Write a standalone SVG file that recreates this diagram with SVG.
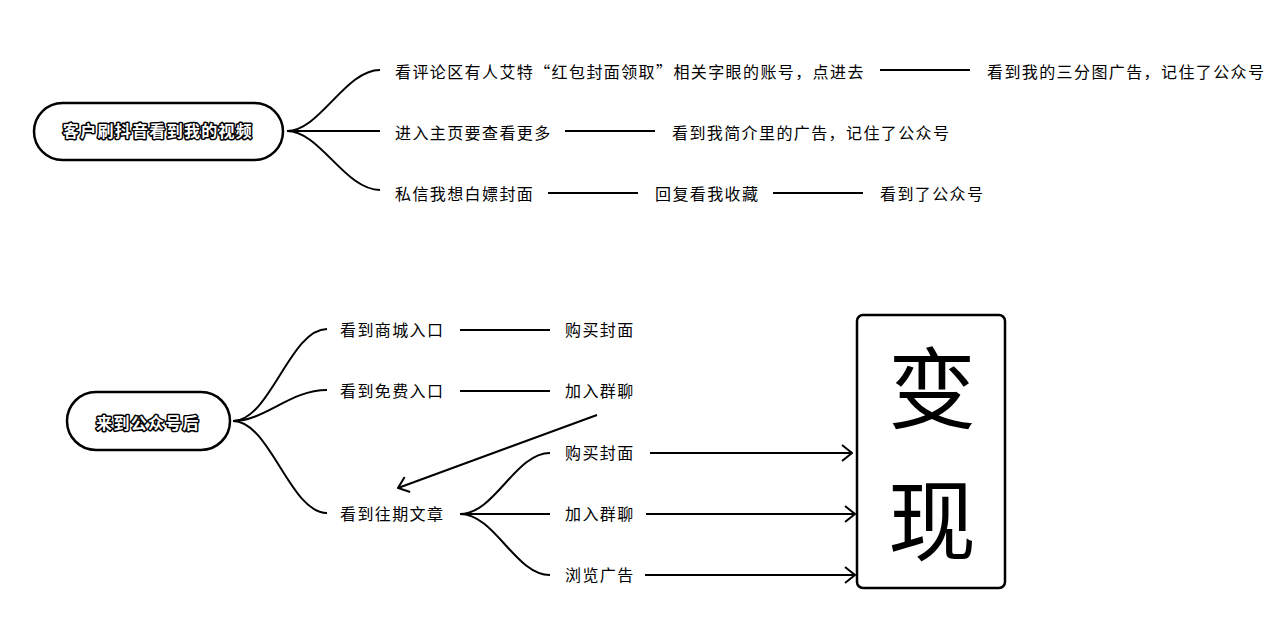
<svg xmlns="http://www.w3.org/2000/svg" width="1280" height="644" viewBox="0 0 1280 644">
<defs>
<style>
.t{font-family:"Noto Sans CJK SC","Liberation Sans",sans-serif;font-size:16px;letter-spacing:1.4px;fill:#000}
.r{font-family:"Noto Sans CJK SC","Liberation Sans",sans-serif;font-size:16px;font-weight:bold;letter-spacing:1.3px;fill:#fff;stroke:#000;stroke-width:3px;paint-order:stroke;stroke-linejoin:round}
.big{font-family:"Noto Sans CJK SC","Liberation Sans",sans-serif;font-size:88px;fill:#000}
.pill{fill:#fff;stroke:#000;stroke-width:2.5}
.ln{fill:none;stroke:#000;stroke-width:2}
.ar{fill:none;stroke:#000;stroke-width:2;marker-end:url(#arr)}
</style>
<marker id="arr" viewBox="0 0 12 20" refX="11" refY="10" markerWidth="12" markerHeight="20" markerUnits="userSpaceOnUse" orient="auto">
<path d="M1,2 L11,10 L1,18" fill="none" stroke="#000" stroke-width="2"/>
</marker>
</defs>
<rect width="1280" height="644" fill="#fff"/>

<g id="connectors">
<path class="ln" d="M287,131 C320,131 345,70 380,70"/>
<path class="ln" d="M287,131 L380,131"/>
<path class="ln" d="M287,131 C320,131 345,190 380,190"/>
<path class="ln" d="M880,70 L970,70"/>
<path class="ln" d="M565,131 L655,131"/>
<path class="ln" d="M548,193 L638,193"/>
<path class="ln" d="M773,193 L863,193"/>

<path class="ln" d="M233,421 C270,421 290,329 327,329"/>
<path class="ln" d="M233,421 C265,421 290,390 327,390"/>
<path class="ln" d="M233,421 C270,421 290,513 327,513"/>
<path class="ln" d="M460,330 L550,330"/>
<path class="ln" d="M460,391 L550,391"/>
<path class="ar" d="M597,415 L398,488"/>

<path class="ln" d="M460,514 C495,514 515,453 550,453"/>
<path class="ln" d="M460,514 L550,514"/>
<path class="ln" d="M460,514 C495,514 515,575 550,575"/>
<path class="ar" d="M650,453 L852,453"/>
<path class="ar" d="M646,514 L855,514"/>
<path class="ar" d="M645,575 L855,575"/>
</g>

<g id="root1">
<rect class="pill" x="34" y="103" width="249" height="57" rx="28.5"/>
<text class="r" x="158" y="137" text-anchor="middle">客户刷抖音看到我的视频</text>
</g>
<g id="n1a"><text class="t" x="395" y="78">看评论区有人艾特“红包封面领取”相关字眼的账号，点进去</text></g>
<g id="n1b"><text class="t" x="987" y="78">看到我的三分图广告，记住了公众号</text></g>
<g id="n2a"><text class="t" x="395" y="139">进入主页要查看更多</text></g>
<g id="n2b"><text class="t" x="672" y="139">看到我简介里的广告，记住了公众号</text></g>
<g id="n3a"><text class="t" x="395" y="200">私信我想白嫖封面</text></g>
<g id="n3b"><text class="t" x="655" y="200">回复看我收藏</text></g>
<g id="n3c"><text class="t" x="880" y="200">看到了公众号</text></g>

<g id="root2">
<rect class="pill" x="67" y="392" width="163" height="58" rx="29"/>
<text class="r" x="148" y="429" text-anchor="middle">来到公众号后</text>
</g>
<g id="m1"><text class="t" x="340" y="336">看到商城入口</text></g>
<g id="m1b"><text class="t" x="565" y="336">购买封面</text></g>
<g id="m2"><text class="t" x="340" y="397">看到免费入口</text></g>
<g id="m2b"><text class="t" x="565" y="397">加入群聊</text></g>
<g id="m3"><text class="t" x="340" y="520">看到往期文章</text></g>
<g id="m3a"><text class="t" x="565" y="459">购买封面</text></g>
<g id="m3b"><text class="t" x="565" y="520">加入群聊</text></g>
<g id="m3c"><text class="t" x="565" y="581">浏览广告</text></g>

<g id="bianxian">
<rect x="857" y="315" width="148" height="273" rx="6" fill="#fff" stroke="#000" stroke-width="2.5"/>
<text class="big" x="932" y="421" text-anchor="middle">变</text>
<text class="big" x="932" y="553" text-anchor="middle">现</text>
</g>
</svg>
